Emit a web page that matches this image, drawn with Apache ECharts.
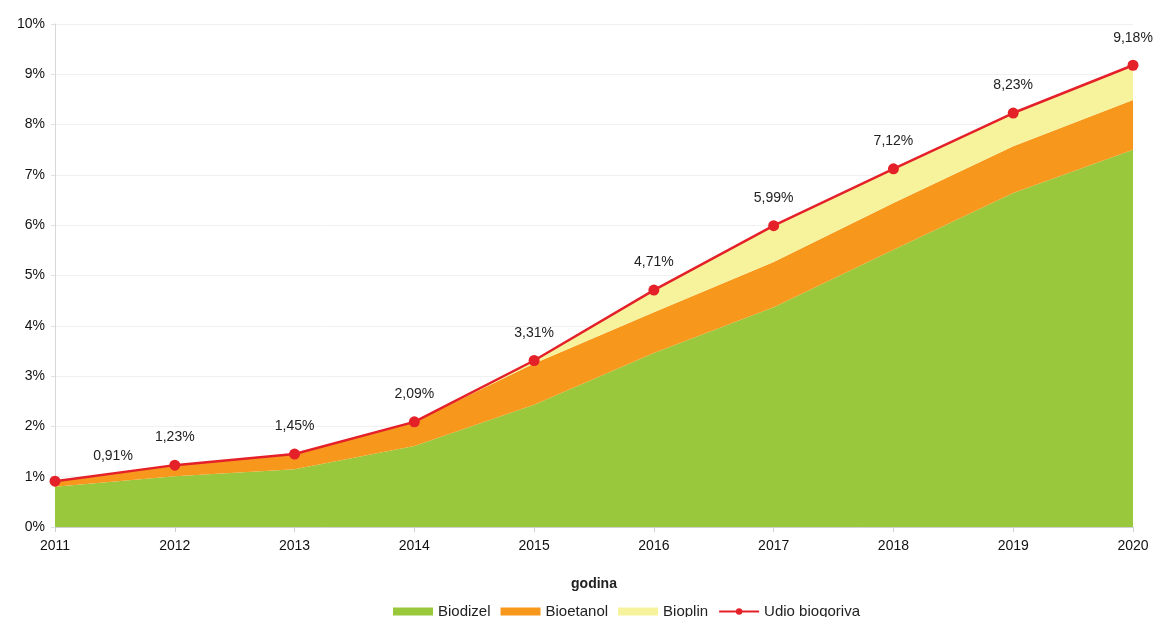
<!DOCTYPE html>
<html>
<head>
<meta charset="utf-8">
<script src="https://cdn.jsdelivr.net/npm/echarts@6/dist/echarts.min.js"></script>
<style>
  html, body { margin: 0; padding: 0; background: #fff; }
  #main { width: 1158px; height: 617px; }
</style>
</head>
<body>
<div id="main"></div>
<script>
const years = ['2011', '2012', '2013', '2014', '2015', '2016', '2017', '2018', '2019', '2020'];
const biodizel = [0.80, 1.01, 1.15, 1.61, 2.43, 3.46, 4.37, 5.51, 6.64, 7.50];
const bioetanol = [0.11, 0.22, 0.30, 0.48, 0.82, 0.81, 0.90, 0.93, 0.93, 0.99];
const bioplin = [0.00, 0.00, 0.00, 0.00, 0.06, 0.44, 0.72, 0.68, 0.66, 0.69];
const udio = [0.91, 1.23, 1.45, 2.09, 3.31, 4.71, 5.99, 7.12, 8.23, 9.18];

const font = 'Liberation Sans, Arial, sans-serif';

const chart = echarts.init(document.getElementById('main'));

const areaSeries = (name, data, color) => ({
    name: name,
    type: 'line',
    stack: 'udio',
    data: data,
    symbol: 'none',
    lineStyle: { width: 0 },
    areaStyle: { color: color, opacity: 1 },
    itemStyle: { color: color },
    emphasis: { disabled: true },
    z: 2
});

// the first label sits to the right of its point
const udioData = udio.map((v, i) => i === 0
    ? { value: v, label: { offset: [58, 2] } }
    : v);

chart.setOption({
    animation: false,
    textStyle: { fontFamily: font },
    grid: { left: 55, right: 25, top: 24, bottom: 90 },
    legend: {
        top: 599,
        left: 388,
        itemWidth: 40,
        itemHeight: 8,
        itemGap: 10,
        textStyle: { fontSize: 15, color: '#222', fontFamily: font },
        data: [
            { name: 'Biodizel', icon: 'rect' },
            { name: 'Bioetanol', icon: 'rect' },
            { name: 'Bioplin', icon: 'rect' },
            { name: 'Udio biogoriva' }
        ]
    },
    xAxis: {
        type: 'category',
        data: years,
        boundaryGap: false,
        name: 'godina',
        nameLocation: 'middle',
        nameGap: 50,
        nameTextStyle: { fontSize: 14, fontWeight: 'bold', color: '#222' },
        axisLine: { lineStyle: { color: '#d0d0d0' } },
        axisTick: { show: true, alignWithLabel: true, length: 5, lineStyle: { color: '#d0d0d0' } },
        axisLabel: { fontSize: 14, color: '#111', margin: 12 },
        splitLine: { show: false }
    },
    yAxis: {
        type: 'value',
        min: 0,
        max: 10,
        interval: 1,
        axisLine: { show: true, lineStyle: { color: '#d8d8d8' } },
        axisTick: { show: true, length: 4, lineStyle: { color: '#e0e0e0' } },
        axisLabel: { fontSize: 14, color: '#111', margin: 10, formatter: '{value}%' },
        splitLine: { lineStyle: { color: '#f0f0f0' } }
    },
    series: [
        areaSeries('Biodizel', biodizel, '#99c83c'),
        areaSeries('Bioetanol', bioetanol, '#f7981d'),
        areaSeries('Bioplin', bioplin, '#f7f39c'),
        {
            name: 'Udio biogoriva',
            type: 'line',
            data: udioData,
            symbol: 'circle',
            symbolSize: 11,
            lineStyle: { color: '#e42129', width: 2.5 },
            itemStyle: { color: '#e42129' },
            label: {
                show: true,
                position: 'top',
                distance: 15,
                fontSize: 14,
                color: '#222',
                formatter: p => p.value.toFixed(2).replace('.', ',') + '%'
            },
            emphasis: { disabled: true },
            z: 5
        }
    ]
});
</script>
</body>
</html>
